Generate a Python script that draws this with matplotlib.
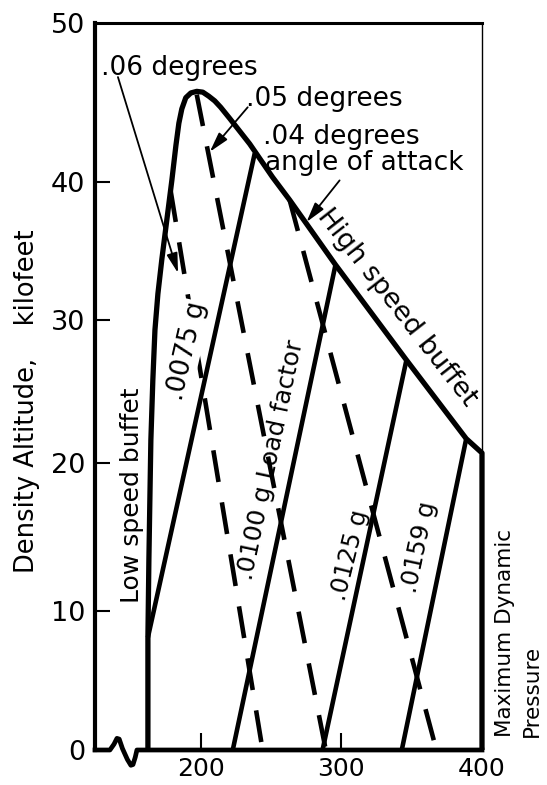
import numpy as np
import matplotlib
matplotlib.use("Agg")
import matplotlib.pyplot as plt
from matplotlib.ticker import NullLocator
from matplotlib.transforms import blended_transform_factory

# ---------------------------------------------------------------- data
# Buffet boundary: low-speed branch (bottom to the peak)
LOW_SPEED_Q = [162.6, 162.6, 163.3, 164.0, 164.7, 166.1, 167.6, 169.7, 172.5,
               176.1, 179.6, 182.5, 184.6, 186.7, 189.5, 193.1, 197.3]
LOW_SPEED_ALT = [0.0, 8.1, 13.5, 17.6, 21.6, 25.8, 29.3, 31.9, 34.4,
                 37.3, 40.1, 42.3, 43.7, 44.6, 45.3, 45.6, 45.7]
# high-speed branch (peak to maximum dynamic pressure)
HIGH_SPEED_Q = [201.6, 205.8, 210.1, 214.3, 220.7, 234.9, 251.2, 263.3, 295.9,
                346.3, 388.8, 400.0]
HIGH_SPEED_ALT = [45.65, 45.4, 45.1, 44.7, 44.0, 42.4, 40.3, 38.7, 34.0,
                  27.2, 21.7, 20.7]
# maximum dynamic pressure limit
MAX_Q_Q = [400.0, 400.0]
MAX_Q_ALT = [20.7, 0.0]

# constant load-factor lines (g) : start and end points
LOAD_NAMES = [".0075 g", ".0100 g Load factor", ".0125 g", ".0159 g"]
LOAD_Q = [(162.6, 238.5), (222.9, 295.9), (286.7, 346.3), (343.0, 388.8)]
LOAD_ALT = [(8.1, 41.8), (0.0, 34.0), (0.0, 27.2), (0.0, 21.7)]

# constant angle-of-attack lines (degrees)
AOA_NAMES = [".06 degrees", ".05 degrees", ".04 degrees"]
AOA_Q = [(178.7, 244.1), (197.3, 289.0), (263.3, 367.6)]
AOA_ALT = [(39.4, 0.0), (45.5, 0.0), (38.7, 0.0)]

X_TICKS = [200, 300, 400]
Y_TICKS = [0, 10, 20, 30, 40, 50]

# uneven altitude graduations (height of each graduation above the axis, px)
ALT_GRAD = [0, 139, 287, 430, 568, 727]


def _piecewise(v, xp, fp):
    v = np.asarray(v, dtype=float)
    out = np.interp(v, xp, fp)
    lo_slope = (fp[1] - fp[0]) / (xp[1] - xp[0])
    hi_slope = (fp[-1] - fp[-2]) / (xp[-1] - xp[-2])
    out = np.where(v < xp[0], fp[0] + (v - xp[0]) * lo_slope, out)
    out = np.where(v > xp[-1], fp[-1] + (v - xp[-1]) * hi_slope, out)
    return out


def alt_forward(v):
    return _piecewise(v, Y_TICKS, ALT_GRAD)


def alt_inverse(v):
    return _piecewise(v, ALT_GRAD, Y_TICKS)


# ---------------------------------------------------------------- figure
plt.rcParams["font.family"] = ["DejaVu Sans"]
fig = plt.figure(figsize=(5.47, 7.85), dpi=100)
ax = fig.add_axes([95 / 547, 35 / 785, 387 / 547, 727 / 785])
ax.set_yscale("function", functions=(alt_forward, alt_inverse))
ax.set_xlim(125, 400)
ax.set_ylim(0, 50)

# frame
ax.spines["left"].set_linewidth(3.0)
ax.spines["top"].set_linewidth(2.2)
ax.spines["right"].set_linewidth(1.0)
ax.spines["bottom"].set_visible(False)

# bottom axis line with a break mark near the origin
brk = blended_transform_factory(ax.transData, ax.transAxes)
bx = [125, 135.6, 138.5, 140.6, 142.2, 144.5, 148.0, 150.5, 152.0, 153.6, 154.8, 400]
by = [0, 0, 0.008, 0.016, 0.015, 0.002, -0.013, -0.021, -0.020, -0.010, 0, 0]
ax.plot(bx, by, color="k", lw=3.4, transform=brk, clip_on=False,
        solid_joinstyle="round", zorder=5)

# ticks
ax.set_xticks(X_TICKS)
ax.set_xticklabels([str(t) for t in X_TICKS])
ax.set_yticks(Y_TICKS)
ax.set_yticklabels([str(t) for t in Y_TICKS])
ax.yaxis.set_minor_locator(NullLocator())
ax.xaxis.set_minor_locator(NullLocator())
ax.tick_params(axis="both", direction="in", width=1.5)
ax.tick_params(axis="y", length=11, pad=7, labelsize=19.5)
ax.tick_params(axis="x", length=12, pad=5, labelsize=18)
for t in (ax.yaxis.get_major_ticks()[0], ax.yaxis.get_major_ticks()[-1],
          ax.xaxis.get_major_ticks()[-1]):
    t.tick1line.set_visible(False)

# buffet boundary and dynamic pressure limit
ax.plot(LOW_SPEED_Q + HIGH_SPEED_Q + MAX_Q_Q[1:],
        LOW_SPEED_ALT + HIGH_SPEED_ALT + MAX_Q_ALT[1:],
        color="k", lw=3.8, solid_joinstyle="round", solid_capstyle="butt",
        clip_on=False, zorder=4)

# load-factor lines
for q, a in zip(LOAD_Q, LOAD_ALT):
    ax.plot(q, a, color="k", lw=3.3, solid_capstyle="butt", zorder=3)

# angle-of-attack lines
for q, a in zip(AOA_Q, AOA_ALT):
    ax.plot(q, a, color="k", lw=3.3, dashes=(7, 4.5), dash_capstyle="butt",
            zorder=2)

# ---------------------------------------------------------------- labels
fs = 19
ax.text(129.5, 47.2, AOA_NAMES[0], fontsize=fs, ha="left", va="center")
ax.text(232.3, 45.2, AOA_NAMES[1], fontsize=fs, ha="left", va="center")
ax.text(244.3, 42.8, AOA_NAMES[2], fontsize=fs, ha="left", va="center")
ax.text(245.8, 41.2, "angle of attack", fontsize=fs, ha="left", va="center")

arrow = dict(arrowstyle="-|>,head_length=0.8,head_width=0.22", color="k",
             lw=1.3, mutation_scale=15, shrinkA=0, shrinkB=0)
ax.annotate("", xy=(184.0, 33.4), xytext=(141.3, 46.6), arrowprops=arrow)
ax.annotate("", xy=(206.6, 41.9), xytext=(233.5, 44.7), arrowprops=arrow)
ax.annotate("", xy=(275.3, 37.1), xytext=(298.8, 40.1), arrowprops=arrow)

ax.text(339.5, 30.9, "High speed buffet", fontsize=19.5, rotation=-52,
        ha="center", va="center")
ax.text(151.2, 17.8, "Low speed buffet", fontsize=18, rotation=90,
        ha="center", va="center")

ax.text(190.0, 27.8, LOAD_NAMES[0], fontsize=19, rotation=77,
        ha="center", va="center", zorder=2.5,
        bbox=dict(facecolor="white", edgecolor="none", pad=1))
ax.text(249.8, 20.2, LOAD_NAMES[1], fontsize=18, rotation=78,
        ha="center", va="center")
ax.text(305.9, 13.8, LOAD_NAMES[2], fontsize=17.5, rotation=76,
        ha="center", va="center")
ax.text(355.5, 14.3, LOAD_NAMES[3], fontsize=17.5, rotation=78,
        ha="center", va="center")

ax.text(1.060, 0.018, "Maximum Dynamic", transform=ax.transAxes, fontsize=15.5,
        rotation=90, ha="center", va="bottom")
ax.text(1.128, 0.018, "Pressure", transform=ax.transAxes, fontsize=15.5,
        rotation=90, ha="center", va="bottom")

fig.text(27 / 547, 1 - 401 / 785, "Density Altitude,    kilofeet",
         fontsize=18.5, rotation=90, ha="center", va="center")

fig.savefig("out.png", dpi=100)
